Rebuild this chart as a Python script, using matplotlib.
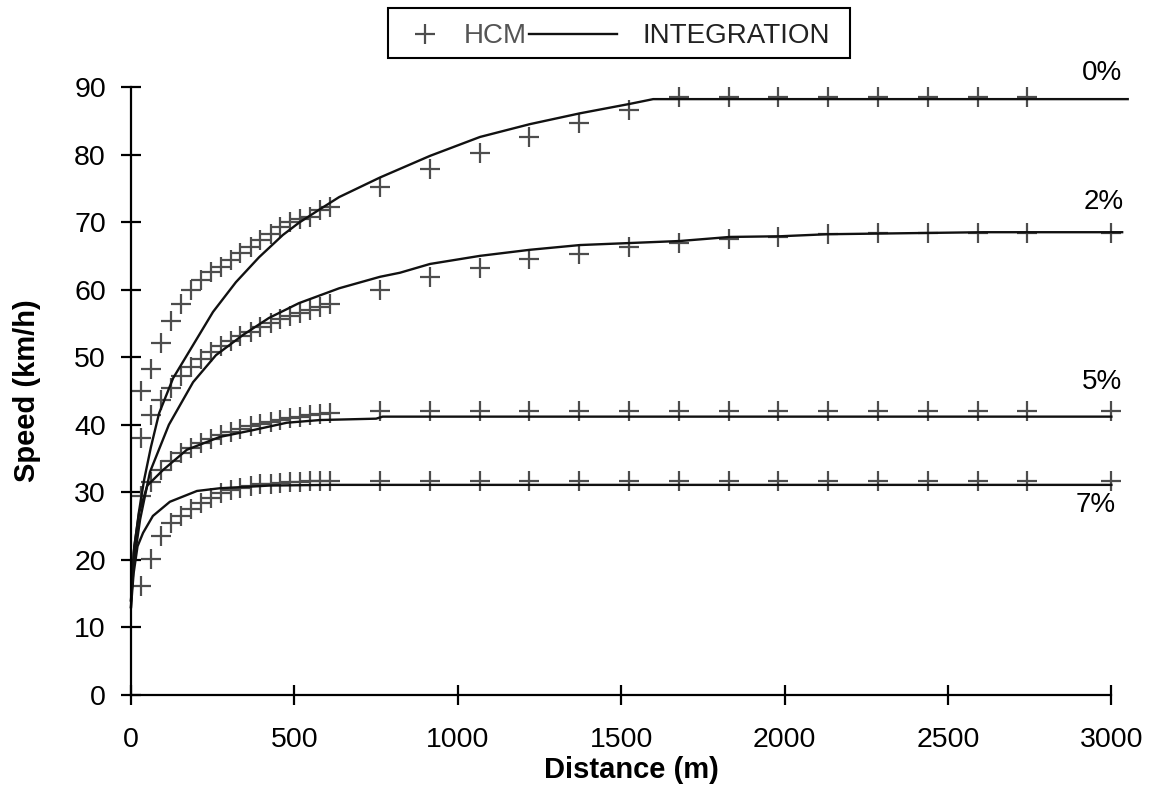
import matplotlib.pyplot as plt
from matplotlib.lines import Line2D
from matplotlib.patches import Rectangle

plt.rcParams['font.family'] = ['Liberation Sans', 'DejaVu Sans']

# HCM points (distance in m)
hcm_x = [30, 61, 91, 122, 152, 183, 213, 244, 274, 305, 335, 366, 396, 427, 457,
         488, 518, 549, 579, 610, 762, 914, 1067, 1219, 1372, 1524, 1676, 1829,
         1981, 2134, 2286, 2438, 2591, 2743, 3000]
hcm_0 = [45.0, 48.3, 52.1, 55.4, 57.9, 59.9, 61.4, 62.6, 63.4, 64.4, 65.4, 66.3,
         67.3, 68.2, 69.3, 70.0, 70.5, 70.8, 71.8, 72.2, 75.2, 77.9, 80.2, 82.6,
         84.6, 86.6, 88.5, 88.5, 88.5, 88.5, 88.5, 88.5, 88.5, 88.5]
hcm_2 = [38.0, 41.4, 43.6, 45.5, 47.2, 48.6, 49.8, 50.8, 51.6, 52.4, 53.1, 53.8,
         54.4, 55.0, 55.6, 56.1, 56.6, 57.0, 57.4, 57.8, 60.0, 61.9, 63.2, 64.5,
         65.3, 66.3, 66.9, 67.5, 67.8, 68.2, 68.4, 68.4, 68.4, 68.4, 68.4]
hcm_5 = [29.5, 31.5, 33.3, 34.7, 35.8, 36.6, 37.3, 37.9, 38.5, 39.0, 39.4, 39.8,
         40.1, 40.4, 40.7, 41.0, 41.2, 41.4, 41.6, 41.7, 42.1, 42.1, 42.1, 42.1,
         42.1, 42.1, 42.1, 42.1, 42.1, 42.1, 42.1, 42.1, 42.1, 42.1, 42.1]
hcm_7 = [16.1, 20.1, 23.5, 25.4, 26.5, 27.5, 28.4, 29.2, 29.9, 30.3, 30.7, 31.0,
         31.2, 31.3, 31.4, 31.5, 31.5, 31.6, 31.6, 31.7, 31.7, 31.7, 31.7, 31.7,
         31.7, 31.7, 31.7, 31.7, 31.7, 31.7, 31.7, 31.7, 31.7, 31.7, 31.7]

# integration curves
int0_x = [0, 8, 24, 40, 61, 86, 129, 190, 251, 321, 392, 465, 514, 575, 637, 762,
          915, 1068, 1221, 1374, 1527, 1598, 3050]
int0_y = [13, 21, 27, 31.8, 36.7, 41.7, 46.9, 51.8, 56.7, 61.1, 64.8, 68.1, 69.9,
          71.8, 73.7, 76.6, 79.8, 82.6, 84.5, 86.1, 87.5, 88.2, 88.2]
int2_x = [0, 10, 28, 58, 116, 190, 260, 343, 422, 514, 637, 762, 823, 915, 1068,
          1221, 1374, 1527, 1680, 1833, 1987, 2130, 2608, 3033]
int2_y = [14, 20, 26, 33, 40, 46.3, 50.3, 53.3, 55.8, 58.0, 60.2, 61.9, 62.5, 63.8,
          65.0, 65.9, 66.6, 66.9, 67.2, 67.8, 67.9, 68.2, 68.5, 68.5]
int5_x = [0, 10, 25, 50, 98, 171, 272, 373, 477, 579, 750, 770, 3000]
int5_y = [14, 22, 27, 31, 33.3, 36.3, 38.2, 39.2, 40.3, 40.7, 40.9, 41.2, 41.2]
int7_x = [0, 8, 20, 37, 67, 119, 202, 272, 425, 612, 3000]
int7_y = [13, 18, 22, 24, 26.5, 28.6, 30.2, 30.6, 31.0, 31.1, 31.1]

grade_labels = ['0%', '2%', '5%', '7%']
label_pos = [(2972, 92.1), (2975, 73.0), (2972, 46.3), (2951, 28.1)]

fig = plt.figure(figsize=(11.51, 7.92), dpi=100)
ax = fig.add_axes([0.1138, 0.1225, 0.8688, 0.7677])

mk = dict(ls='none', marker='+', ms=14, mew=1.6, color='#4d4d4d')
for y in [hcm_0, hcm_2, hcm_5, hcm_7]:
    ax.plot(hcm_x[:len(y)], y, **mk)

for xs, ys in [(int0_x, int0_y), (int2_x, int2_y), (int5_x, int5_y), (int7_x, int7_y)]:
    ax.plot(xs, ys, color='#111111', lw=1.7, clip_on=False)

for lab, (x, y) in zip(grade_labels, label_pos):
    ax.text(x, y, lab, fontsize=20, ha='center', va='center', clip_on=False)

ax.set_xlim(0, 3060)
ax.set_ylim(0, 90)
ax.set_xticks(range(0, 3001, 500))
ax.set_yticks(range(0, 91, 10))
ax.spines['top'].set_visible(False)
ax.spines['right'].set_visible(False)
ax.spines['bottom'].set_bounds(0, 3000)
for s in ['left', 'bottom']:
    ax.spines[s].set_linewidth(1.6)
ax.tick_params(direction='inout', length=14, width=1.6, labelsize=20.5)
ax.tick_params(axis='x', pad=16)
ax.tick_params(axis='y', pad=11)

ax.set_xlabel('Distance (m)', fontsize=21, fontweight='bold', labelpad=2)
ax.set_ylabel('Speed (km/h)', fontsize=21, fontweight='bold', labelpad=24)

# legend box drawn by hand above the plot
fig.add_artist(Rectangle((0.3371, 0.9268), 0.4014, 0.0631, transform=fig.transFigure,
                         fill=False, edgecolor='black', lw=1.5))
fig.add_artist(Line2D([0.3692], [0.9570], transform=fig.transFigure, **mk))
fig.add_artist(Line2D([0.4596, 0.5361], [0.9570, 0.9570], transform=fig.transFigure,
                      color='#111111', lw=1.7))
fig.text(0.4031, 0.9545, 'HCM', fontsize=20, color='#555555', va='center')
fig.text(0.5578, 0.9545, 'INTEGRATION', fontsize=20, color='#222222', va='center')

fig.savefig('out.png', dpi=100)
